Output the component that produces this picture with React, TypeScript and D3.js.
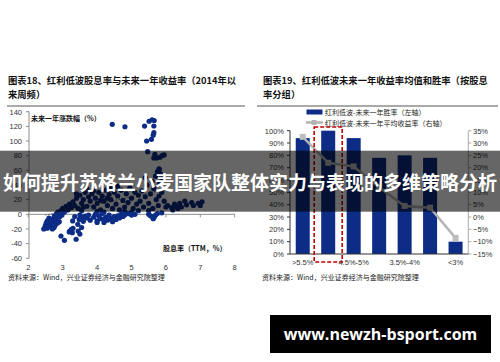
import React from "react";
import * as d3 from "d3";

// Scatter: dividend yield (TTM, %) vs. forward one-year return (%)
const scatterPoints: [number, number][] = [
  // low-yield cluster
  [2.45, -20], [2.48, -18], [2.5, -15], [2.52, -12], [2.55, -19], [2.58, -16], [2.6, -13], [2.62, -10],
  [2.65, -17], [2.68, -14], [2.7, -8], [2.72, -11], [2.74, -5], [2.76, -2], [2.78, -15], [2.8, -7],
  [2.82, 1], [2.84, -4], [2.86, 3], [2.88, -1], [2.9, -10], [2.92, -3], [2.95, 2], [2.6, -5],
  [2.66, -7], [2.7, -20], [2.55, -9], [2.75, -18], [2.85, -12], [2.98, -1],
  // scattered losses
  [2.95, -29.6], [3.05, -35.5], [3.21, -22.8], [3.25, -20.5], [3.19, -24], [3.29, -9], [3.39, -34],
  [3.5, -27], [3.45, -22.8], [3.55, -18], [3.44, -13.6], [3.48, -7], [3.6, -9.5], [3.65, -2.3],
  [3.3, -19], [3.28, -25],
  // band just below zero
  [3.35, -3], [3.5, -1], [3.7, -5], [3.8, -8], [3.9, -4], [4.0, -9], [4.05, -2], [4.1, -6],
  [4.2, -11], [4.25, -4], [4.3, -8], [4.35, -1], [4.4, -6], [4.45, -10], [4.5, -3], [4.55, -7],
  [4.6, -2], [4.65, -5], [4.7, 0], [4.75, -3], [3.75, -1], [3.95, 0], [4.15, 1], [3.6, -4],
  [4.0, -11], [4.2, -7], [4.8, -1], [4.9, 1], [5.0, -1], [5.1, 0],
  [5.5, 0], [5.6, -3], [5.63, -6], [5.66, -4], [5.7, -1], [5.88, 2], [5.75, 1], [5.55, -2],
  // main body
  [2.95, 5], [3.0, 8], [3.05, 3], [3.1, 11], [3.15, 6], [3.2, 14], [3.25, 9], [3.3, 17],
  [3.35, 12], [3.4, 22], [3.45, 8], [3.5, 26], [3.55, 15], [3.6, 20], [3.65, 30], [3.7, 11],
  [3.75, 24], [3.8, 18], [3.4, 28], [3.55, 5], [3.7, 35], [3.6, 10],
  [3.85, 28], [3.9, 10], [3.95, 22], [4.0, 15], [4.05, 30], [4.1, 6], [4.15, 25], [4.2, 18],
  [4.25, 33], [4.3, 12], [4.35, 27], [4.4, 20], [4.45, 8], [4.5, 30], [3.9, 32], [4.0, 4],
  [4.2, 3], [4.3, 22], [4.1, 19], [4.4, 35],
  [4.55, 14], [4.6, 25], [4.65, 6], [4.7, 33], [4.75, 19], [4.8, 10], [4.85, 28], [4.9, 16],
  [4.95, 36], [5.0, 22], [5.05, 8], [5.1, 30], [5.15, 14], [5.2, 26], [4.6, 38], [4.8, 4],
  [5.0, 3], [5.2, 5],
  [5.25, 18], [5.3, 32], [5.35, 10], [5.4, 24], [5.45, 40], [5.5, 15], [5.55, 28], [5.6, 45],
  [5.62, 8], [5.65, 35], [5.7, 52], [5.72, 20], [5.75, 58], [5.78, 12], [5.8, 62], [5.82, 42],
  [5.85, 55], [5.88, 30], [5.9, 48], [5.95, 18], [6.0, 10], [5.8, 25], [5.5, 5], [5.4, 50],
  // high-return column
  [5.81, 61], [5.68, 81.8], [5.73, 77], [5.65, 77], [5.83, 78], [5.9, 80.5], [5.95, 81], [5.47, 85.4],
  [5.44, 100], [5.58, 102.3], [5.63, 108], [5.65, 111.4], [5.65, 120.5], [5.38, 120.4], [5.51, 127],
  [5.6, 129], [5.66, 128], [4.44, 122.8], [4.81, 119.5],
  // high-yield tail
  [6.05, 12], [6.17, 9], [6.25, 14], [6.3, 11], [6.4, 15], [6.45, 10], [6.55, 18], [6.6, 13],
  [6.75, 16], [6.8, 12], [6.94, 15], [7.0, 12], [7.05, 17], [6.2, 6], [6.35, 8],
];
const trendLine: [number, number][] = [[2.5, -1], [6.0, 34]];
const scatterXTicks = [2, 3, 4, 5, 6, 7, 8];
const scatterYTicks = [-60, -40, -20, 0, 20, 40, 60, 80, 100, 120, 140];

// Grouped by dividend yield
const yieldGroups = [">5.5%", "5%-5.5%", "4.5%-5%", "4%-4.5%", "3.5%-4%", "3%-3.5%", "<3%"];
const shownGroupLabels = [">5.5%", "4.5%-5%", "3.5%-4%", "<3%"];
const winRate = [0.94, 1.0, 0.94, 0.78, 0.8, 0.78, 0.1];
const avgReturn = [0.325, 0.22, 0.205, 0.12, 0.045, 0.038, -0.085];
const winTicks = [0, 0.1, 0.2, 0.3, 0.4, 0.5, 0.6, 0.7, 0.8, 0.9, 1.0];
const returnTicks = [-0.15, -0.1, -0.05, 0, 0.05, 0.1, 0.15, 0.2, 0.25, 0.3, 0.35];
const highlightGroup = "5%-5.5%";

const NAVY = "#0c2c86";
const AXIS = "#8c8c8c";
const CJK = "'Noto Sans CJK SC', sans-serif";
const NUM = "'Liberation Sans', Arial, sans-serif";

export default function App() {
  // left panel scales
  const xS = d3.scaleLinear().domain([2, 8]).range([28.3, 234.7]);
  const yS = d3.scaleLinear().domain([-60, 140]).range([258.3, 111.7]);
  const trend = d3.line<[number, number]>().x((d) => xS(d[0])).y((d) => yS(d[1]));

  // right panel scales
  const xB = d3.scaleBand<string>().domain(yieldGroups).range([290, 468.3]).paddingInner(0.45).paddingOuter(0.225);
  const yL = d3.scaleLinear().domain([0, 1]).range([254, 130.7]);
  const yR = d3.scaleLinear().domain([-0.15, 0.35]).range([254, 130.7]);
  const retLine = d3
    .line<number>()
    .x((_, i) => (xB(yieldGroups[i]) as number) + xB.bandwidth() / 2)
    .y((d) => yR(d));
  const pct = d3.format(".0%");

  const hx = xB(highlightGroup) as number;

  return (
    <svg
      width={500}
      height={362}
      style={{ position: "absolute", left: 0, top: 0, background: "#fff" }}
    >
      <rect x={0} y={0} width={500} height={362} fill="#fff" />

      {/* ---------- left panel ---------- */}
      <text x={8} y={84} fontFamily={CJK} fontWeight="bold" fontSize={9.3} fill="#111">
        图表18、红利低波股息率与未来一年收益率（2014年以
      </text>
      <text x={8} y={98} fontFamily={CJK} fontWeight="bold" fontSize={9.3} fill="#111">
        来周频）
      </text>
      <line x1={7} x2={245} y1={106} y2={106} stroke="#555" strokeWidth={1} />

      {/* y axis */}
      <line x1={29} x2={29} y1={yS(140)} y2={yS(-60)} stroke={AXIS} />
      {scatterYTicks.map((t) => (
        <g key={"ly" + t}>
          <line x1={26} x2={29} y1={yS(t)} y2={yS(t)} stroke={AXIS} />
          <text x={22} y={yS(t) + 2.8} textAnchor="end" fontFamily={NUM} fontSize={7.5} fill="#333">
            {t}
          </text>
        </g>
      ))}
      {/* x axis at zero, labels at bottom */}
      <line x1={xS(2)} x2={xS(8)} y1={yS(0)} y2={yS(0)} stroke={AXIS} />
      {scatterXTicks.map((t) => (
        <g key={"lx" + t}>
          <line x1={xS(t)} x2={xS(t)} y1={yS(0)} y2={yS(0) + 3} stroke={AXIS} />
          <text x={xS(t)} y={270} textAnchor="middle" fontFamily={NUM} fontSize={7.5} fill="#333">
            {t}
          </text>
        </g>
      ))}

      {scatterPoints.map((p, i) => (
        <circle key={"pt" + i} cx={xS(p[0])} cy={yS(p[1])} r={2.6} fill={NAVY} />
      ))}
      <path d={trend(trendLine) || ""} fill="none" stroke="#333" strokeWidth={1} strokeDasharray="1,2" />

      <text x={31} y={121} fontFamily={CJK} fontWeight="bold" fontSize={7} fill="#111">
        未来一年涨跌幅（%）
      </text>
      <text x={163} y={251} fontFamily={CJK} fontWeight="bold" fontSize={7} fill="#111">
        股息率（TTM，%）
      </text>
      <text x={8} y={280} fontFamily={CJK} fontSize={7} fill="#222">
        资料来源：Wind，兴业证券经济与金融研究院整理
      </text>

      {/* ---------- right panel ---------- */}
      <text x={263} y={84} fontFamily={CJK} fontWeight="bold" fontSize={9.3} fill="#111">
        图表19、红利低波未来一年收益率均值和胜率（按股息
      </text>
      <text x={263} y={98} fontFamily={CJK} fontWeight="bold" fontSize={9.3} fill="#111">
        率分组）
      </text>
      <line x1={257} x2={498} y1={106} y2={106} stroke="#555" strokeWidth={1} />

      {/* legend */}
      <rect x={306.5} y={109.5} width={16} height={5} fill={NAVY} />
      <text x={325} y={115} fontFamily={CJK} fontSize={7} fill="#222">
        红利低波-未来一年胜率（左轴）
      </text>
      <line x1={306} x2={323} y1={122.5} y2={122.5} stroke="#b3b3b3" strokeWidth={2.5} />
      <rect x={311.5} y={120} width={5} height={5} fill="#b3b3b3" />
      <text x={325} y={125.5} fontFamily={CJK} fontSize={7} fill="#222">
        红利低波-未来一年平均收益率（右轴）
      </text>

      {/* axes */}
      <line x1={290} x2={290} y1={yL(1)} y2={yL(0)} stroke="#333" />
      {winTicks.map((t) => (
        <g key={"wl" + t}>
          <line x1={287} x2={290} y1={yL(t)} y2={yL(t)} stroke="#333" />
          <text x={284} y={yL(t) + 2.8} textAnchor="end" fontFamily={NUM} fontSize={7.5} fill="#333">
            {pct(t)}
          </text>
        </g>
      ))}
      <line x1={468.3} x2={468.3} y1={yR(0.35)} y2={yR(-0.15)} stroke="#aaa" />
      {returnTicks.map((t) => (
        <g key={"rr" + t}>
          <line x1={468.3} x2={471.3} y1={yR(t)} y2={yR(t)} stroke="#aaa" />
          <text x={473} y={yR(t) + 2.8} textAnchor="start" fontFamily={NUM} fontSize={7.5} fill="#333">
            {pct(t)}
          </text>
        </g>
      ))}

      {yieldGroups.map((g, i) => (
        <rect
          key={"bar" + g}
          x={xB(g)}
          y={yL(winRate[i])}
          width={xB.bandwidth()}
          height={yL(0) - yL(winRate[i])}
          fill={NAVY}
        />
      ))}
      <line x1={290} x2={468.3} y1={yL(0)} y2={yL(0)} stroke="#333" />
      {shownGroupLabels.map((g) => (
        <text
          key={"xl" + g}
          x={(xB(g) as number) + xB.bandwidth() / 2}
          y={265}
          textAnchor="middle"
          fontFamily={NUM}
          fontSize={7.5}
          fill="#333"
        >
          {g}
        </text>
      ))}

      <path d={retLine(avgReturn) || ""} fill="none" stroke="#b3b3b3" strokeWidth={2.5} />
      {avgReturn.map((v, i) => (
        <rect
          key={"mk" + i}
          x={(xB(yieldGroups[i]) as number) + xB.bandwidth() / 2 - 3}
          y={yR(v) - 3}
          width={6}
          height={6}
          fill="#bdbdbd"
        />
      ))}

      <rect
        x={hx - 7}
        y={127}
        width={xB.bandwidth() + 14}
        height={135}
        fill="none"
        stroke="#c00000"
        strokeWidth={1.6}
        strokeDasharray="4,2"
      />
      <text x={262} y={280} fontFamily={CJK} fontSize={7} fill="#222">
        资料来源：Wind，兴业证券经济与金融研究院整理
      </text>

      {/* ---------- headline band ---------- */}
      <rect x={0} y={150.7} width={500} height={61} fill="#000" fillOpacity={0.6} />
      <text
        x={250}
        y={190}
        textAnchor="middle"
        fontFamily={CJK}
        fontWeight="bold"
        fontSize={19}
        fill="#fff"
      >
        如何提升苏格兰小麦国家队整体实力与表现的多维策略分析
      </text>

      {/* ---------- site tag ---------- */}
      <rect x={270} y={315} width={221} height={38} fill="#000" />
      <text
        x={380.5}
        y={339.5}
        textAnchor="middle"
        fontFamily="'Open Sans', sans-serif"
        fontWeight="bold"
        fontSize={16}
        fill="#fff"
      >
        www.newzh-bsport.com
      </text>
    </svg>
  );
}
